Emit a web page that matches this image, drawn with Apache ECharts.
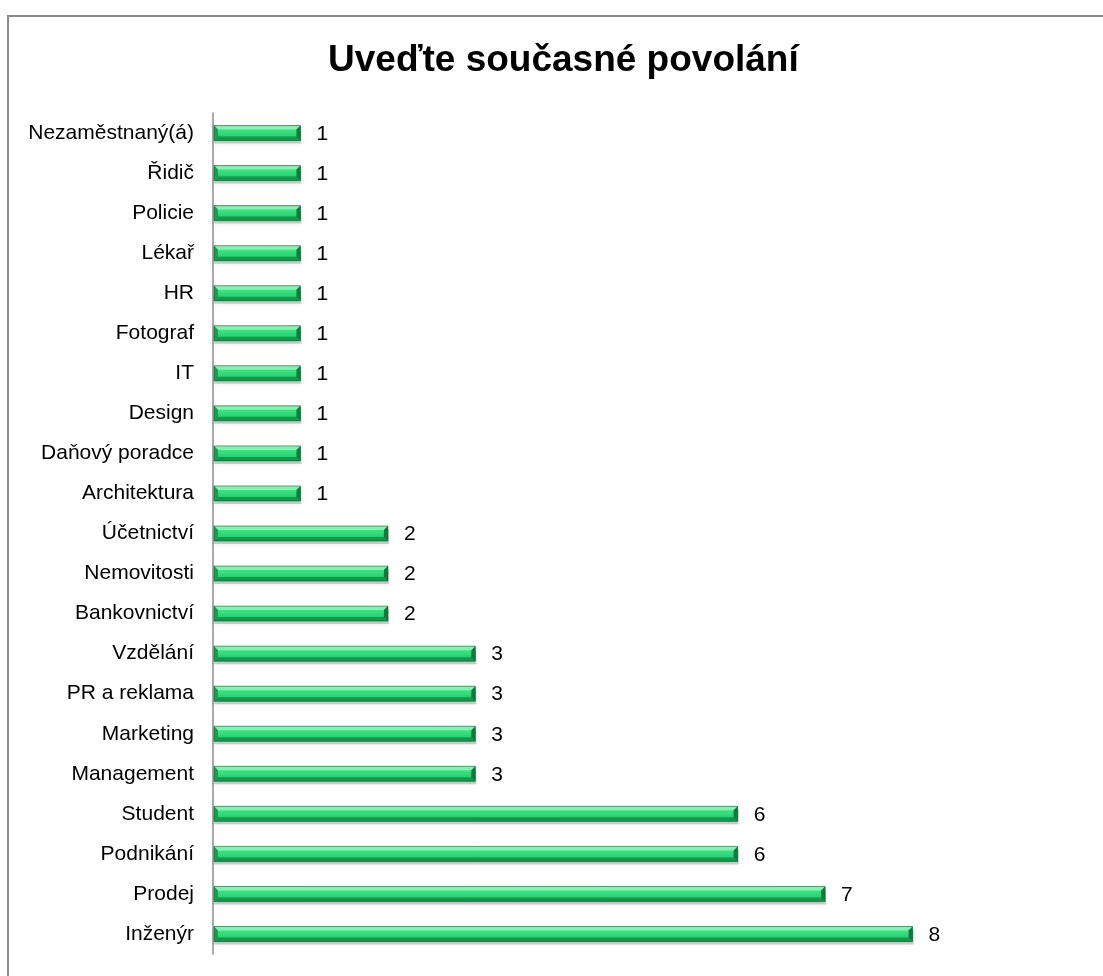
<!DOCTYPE html>
<html>
<head>
<meta charset="utf-8">
<script src="https://cdn.jsdelivr.net/npm/echarts@6/dist/echarts.min.js"></script>
<style>
html,body{margin:0;padding:0;background:#fff;}
#chart{width:1103px;height:976px;}
</style>
</head>
<body>
<div id="chart"></div>
<script>
// Occupations, listed bottom-to-top as drawn on the category axis
const categories = [
  'Inženýr', 'Prodej', 'Podnikání', 'Student', 'Management', 'Marketing',
  'PR a reklama', 'Vzdělání', 'Bankovnictví', 'Nemovitosti', 'Účetnictví',
  'Architektura', 'Daňový poradce', 'Design', 'IT', 'Fotograf', 'HR',
  'Lékař', 'Policie', 'Řidič', 'Nezaměstnaný(á)'
];
const counts = [8, 7, 6, 6, 3, 3, 3, 3, 2, 2, 2, 1, 1, 1, 1, 1, 1, 1, 1, 1, 1];

const FONT = 'Liberation Sans, Arial, sans-serif';
const BAR_H = 15;   // bar thickness in px
const BEVEL = 4;    // bevel edge width in px

// Bevelled green bar with a soft drop shadow and its value label
function renderBar(params, api) {
  const cat = api.value(0);
  const val = api.value(1);
  const p0 = api.coord([0, cat]);
  const p1 = api.coord([val, cat]);
  const x0 = p0[0] + 1, x1 = p1[0];
  const y0 = p0[1] - BAR_H / 2, y1 = p0[1] + BAR_H / 2;
  const b = BEVEL;
  const body = new echarts.graphic.LinearGradient(0, 0, 0, 1, [
    {offset: 0, color: '#4fe78f'},
    {offset: 0.45, color: '#35dc7e'},
    {offset: 1, color: '#1fc063'}
  ]);
  return {
    type: 'group',
    children: [
      {
        type: 'rect',
        shape: {x: x0, y: y0 + 3, width: x1 - x0 + 1, height: BAR_H},
        style: {fill: 'rgba(0,0,0,0.18)', shadowBlur: 5, shadowColor: 'rgba(0,0,0,0.35)', shadowOffsetY: 1}
      },
      {
        type: 'rect',
        shape: {x: x0, y: y0, width: x1 - x0, height: BAR_H},
        style: {fill: body}
      },
      { // top bevel
        type: 'polygon',
        shape: {points: [[x0, y0], [x1, y0], [x1 - b, y0 + b], [x0 + b, y0 + b]]},
        style: {fill: '#86f1b1'}
      },
      { // bottom bevel
        type: 'polygon',
        shape: {points: [[x0, y1], [x1, y1], [x1 - b, y1 - b], [x0 + b, y1 - b]]},
        style: {fill: '#16964b'}
      },
      { // left bevel
        type: 'polygon',
        shape: {points: [[x0, y0], [x0 + b, y0 + b], [x0 + b, y1 - b], [x0, y1]]},
        style: {fill: '#1f9a55'}
      },
      { // right bevel
        type: 'polygon',
        shape: {points: [[x1, y0], [x1 - b, y0 + b], [x1 - b, y1 - b], [x1, y1]]},
        style: {fill: '#0f7a3a'}
      },
      {
        type: 'rect',
        shape: {x: x0, y: y0, width: x1 - x0, height: BAR_H},
        style: {fill: 'none', stroke: 'rgba(10,90,45,0.55)', lineWidth: 1}
      },
      {
        type: 'text',
        x: x1 + 16, y: p0[1] + 1,
        style: {text: String(val), font: '21px ' + FONT, fill: '#000', verticalAlign: 'middle', align: 'left'}
      }
    ]
  };
}

const chart = echarts.init(document.getElementById('chart'), null, {renderer: 'canvas'});

chart.setOption({
  animation: false,
  title: {
    text: 'Uveďte současné povolání',
    left: 323,
    top: 37,
    textStyle: {fontFamily: FONT, fontSize: 37, fontWeight: 'bold', color: '#000'}
  },
  graphic: [{
    type: 'rect',
    shape: {x: 8, y: 16, width: 1300, height: 1200},
    style: {fill: 'none', stroke: '#8c8c8c', lineWidth: 2},
    silent: true, z: -1
  }],
  grid: {left: 213, top: 113, width: 787, height: 841, containLabel: false},
  xAxis: {
    type: 'value', min: 0, max: 9, interval: 1,
    show: false
  },
  yAxis: {
    type: 'category',
    data: categories,
    axisLine: {show: true, lineStyle: {color: '#8c8c8c', width: 1.5}},
    axisTick: {show: false},
    axisLabel: {
      margin: 19,
      fontFamily: FONT,
      fontSize: 21, color: '#000'
    }
  },
  series: [{
    type: 'custom',
    renderItem: renderBar,
    encode: {x: 1, y: 0},
    data: counts.map((v, i) => [i, v])
  }]
});
</script>
</body>
</html>
